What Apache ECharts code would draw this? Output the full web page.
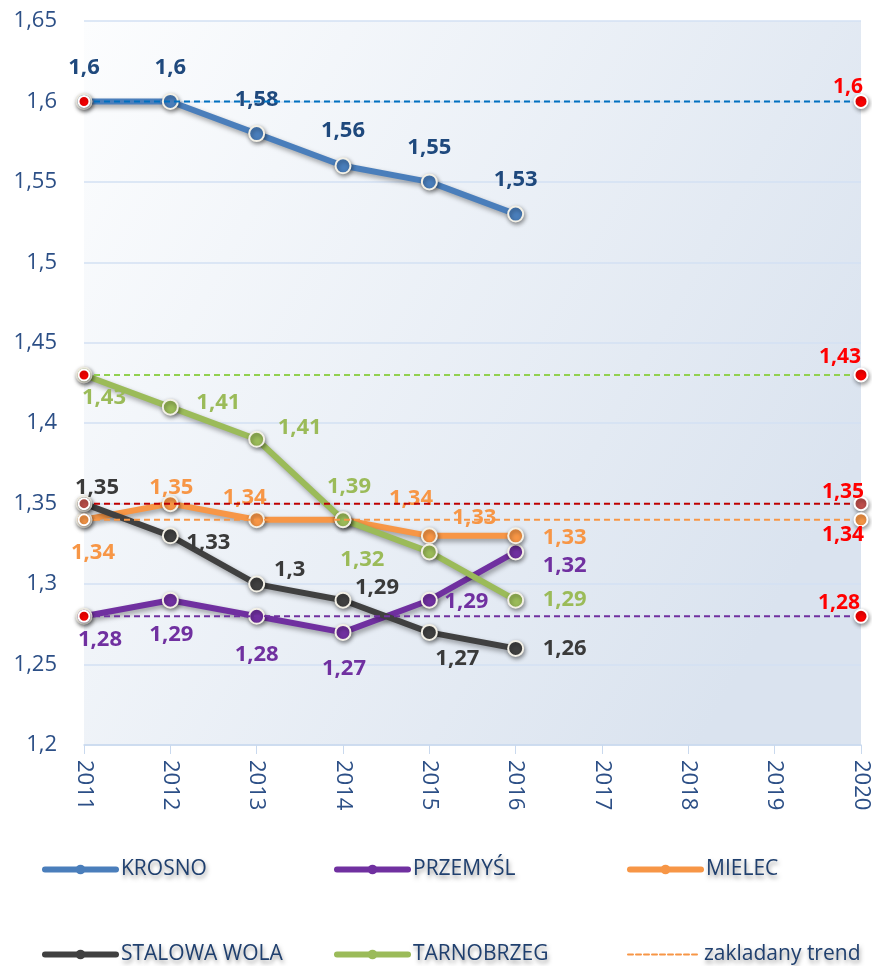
<!DOCTYPE html>
<html>
<head>
<meta charset="utf-8">
<script src="https://cdn.jsdelivr.net/npm/echarts@6/dist/echarts.min.js"></script>
<style>
html,body{margin:0;padding:0;background:#fff;}
#chart{width:872px;height:966px;}
</style>
</head>
<body>
<div id="chart"></div>
<script>
// ---- data ----
const years = ['2011','2012','2013','2014','2015','2016','2017','2018','2019','2020'];
const krosno      = [1.6, 1.6, 1.58, 1.56, 1.55, 1.53];
const przemysl    = [1.28, 1.29, 1.28, 1.27, 1.29, 1.32];
const mielec      = [1.34, 1.35, 1.34, 1.34, 1.33, 1.33];
const stalowaWola = [1.35, 1.33, 1.3, 1.29, 1.27, 1.26];
const tarnobrzeg  = [1.43, 1.41, 1.39, 1.34, 1.32, 1.29];
const tarnobrzegLabels = ['1,43', '1,41', '1,41', '1,39', '1,32', '1,29'];
const trendValues = [1.6, 1.43, 1.35, 1.34, 1.28];
const yMin = 1.2, yMax = 1.65, yStep = 0.05;

// ---- styles / label placement ----
const offKrosno   = [[0,-34],[0,-34],[0,-34],[0,-35],[0,-34],[0,-34]];
const offPrzemysl = [[16,23],[1,35],[0,38],[1,36],[37,2],[49,14]];
const offMielec   = [[9,33],[1,-16],[-12,-22],[68,-21],[45,-18],[49,2]];
const offStalowa  = [[13,-16],[38,7],[33,-14],[34,-12],[28,26],[49,0]];
const offTarno    = [[20,23],[48,-4],[43,-12],[6,-33],[-67,8],[49,0]];
const trendLine   = ['#0070c0','#92d050','#c00000','#f79646','#7030a0'];
const trendMarker = ['#ff0000','#ff0000','#c0504d','#f79646','#ff0000'];
const trendOff    = [[-13,-14],[-21,-18],[-18,-12],[-18,15],[-22,-13]];

function fmt(v){ return (+(+v).toFixed(2)).toString().replace('.', ','); }

function mainSeries(name, values, color, labelColor, offsets, texts){
  return {
    name: name, type: 'line', z: 2,
    data: values.map((v,i)=>({value: v, label: {offset: offsets[i]}})),
    symbol: 'circle', symbolSize: 15,
    lineStyle: {color: color, width: 6, shadowColor: 'rgba(0,0,0,0.35)', shadowBlur: 5, shadowOffsetX: 2, shadowOffsetY: 3},
    itemStyle: {color: color, borderColor: '#f3f0e6', borderWidth: 2, shadowColor: 'rgba(0,0,0,0.4)', shadowBlur: 4, shadowOffsetX: 1, shadowOffsetY: 2},
    label: {show: true, position: 'inside', color: labelColor, fontFamily: 'Open Sans', fontWeight: 'bold', fontSize: 22,
      formatter: p => texts ? texts[p.dataIndex] : fmt(p.value)},
    emphasis: {disabled: true}
  };
}

function trendSeries(idx){
  const v = trendValues[idx];
  return {
    name: 'trend' + idx, type: 'line', z: 3,
    data: [
      {value: [years[0], v], symbolSize: 11},
      {value: [years[years.length-1], v], label: {show: true, offset: trendOff[idx]}}
    ],
    symbol: 'circle', symbolSize: 13,
    lineStyle: {color: trendLine[idx], width: 2, type: [6,4]},
    itemStyle: {color: trendMarker[idx], borderColor: '#ffffff', borderWidth: 2, shadowColor: 'rgba(0,0,0,0.4)', shadowBlur: 4, shadowOffsetX: 1, shadowOffsetY: 2},
    label: {show: false, position: 'inside', color: '#ff0000', fontFamily: 'Open Sans', fontWeight: 'bold', fontSize: 21,
      formatter: p => fmt(p.value[1])},
    emphasis: {disabled: true}
  };
}

const legendText = {color: '#1f3f6e', fontFamily: 'Open Sans', fontSize: 21,
  textShadowColor: 'rgba(0,0,0,0.4)', textShadowBlur: 4, textShadowOffsetX: 1, textShadowOffsetY: 3};
function legendItem(name, left, top, dashed){
  const o = {data: [name], left: left, top: top, padding: 0, itemWidth: 71, itemHeight: 12, itemGap: 5,
    textStyle: legendText, selectedMode: false,
    lineStyle: {width: dashed ? 2 : 6, shadowBlur: 0, cap: 'round'},
    itemStyle: {borderWidth: 0, shadowBlur: 0}};
  if (dashed) o.itemStyle = {opacity: 0};
  return o;
}

const chart = echarts.init(document.getElementById('chart'), null, {renderer: 'canvas'});
chart.setOption({
  animation: false,
  backgroundColor: '#ffffff',
  grid: {left: 84, right: 10, top: 21, bottom: 221, show: true, borderWidth: 0,
    backgroundColor: new echarts.graphic.LinearGradient(0, 0, 1, 0.6, [
      {offset: 0, color: '#fcfdfe'}, {offset: 1, color: '#dae3ef'}])},
  legend: [
    legendItem('KROSNO', 42, 859),
    legendItem('PRZEMYŚL', 334, 859),
    legendItem('MIELEC', 627, 859),
    legendItem('STALOWA WOLA', 42, 944),
    legendItem('TARNOBRZEG', 334, 944),
    legendItem('zakladany trend', 627, 944, true)
  ],
  xAxis: {
    type: 'category', data: years, boundaryGap: false,
    axisLine: {lineStyle: {color: '#c9d9ee', width: 1.5}},
    axisTick: {show: true, length: 9, lineStyle: {color: '#c9d9ee'}},
    axisLabel: {rotate: -90, margin: 15, color: '#2c4f86', fontFamily: 'Open Sans', fontSize: 22},
    splitLine: {show: false}
  },
  yAxis: {
    type: 'value', min: yMin, max: yMax, interval: yStep,
    axisLine: {show: false}, axisTick: {show: false},
    axisLabel: {margin: 27, color: '#2c4f86', fontFamily: 'Open Sans', fontSize: 22, formatter: v => fmt(v)},
    splitLine: {lineStyle: {color: '#d3e1f3', width: 1.5}}
  },
  series: [
    mainSeries('KROSNO', krosno, '#4a7ebb', '#1f497d', offKrosno),
    mainSeries('PRZEMYŚL', przemysl, '#7030a0', '#7030a0', offPrzemysl),
    mainSeries('MIELEC', mielec, '#f79646', '#f79646', offMielec),
    mainSeries('STALOWA WOLA', stalowaWola, '#404040', '#3a3a3a', offStalowa),
    mainSeries('TARNOBRZEG', tarnobrzeg, '#9bbb59', '#9bbb59', offTarno, tarnobrzegLabels),
    trendSeries(0), trendSeries(1), trendSeries(2), trendSeries(3), trendSeries(4),
    {name: 'zakladany trend', type: 'line', data: [], symbol: 'none',
      lineStyle: {color: '#f79646', width: 2, type: [5,3]}, itemStyle: {color: '#f79646'}}
  ]
});
</script>
</body>
</html>
